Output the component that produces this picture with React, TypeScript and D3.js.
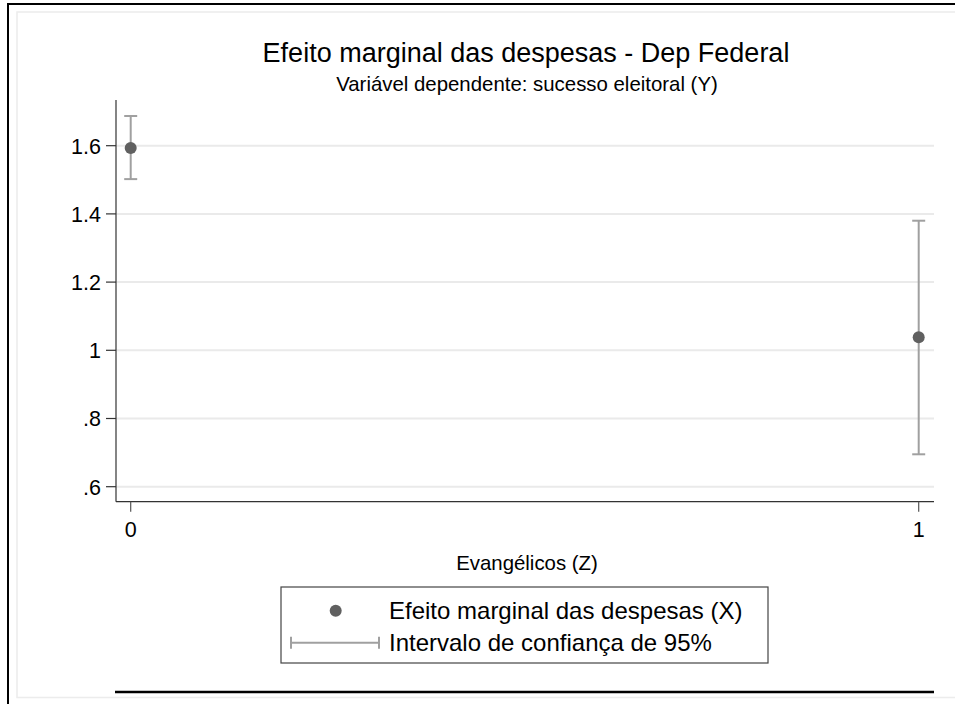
import React, { useRef, useEffect } from 'react';
import * as d3 from 'd3';

// Marginal effect of spending, by evangelical (Z)
const categories = [0, 1];
const margins = [1.593, 1.038];
const ciLower = [1.502, 0.695];
const ciUpper = [1.687, 1.38];
const yTicks = [0.6, 0.8, 1, 1.2, 1.4, 1.6];
const yTickLabels = ['.6', '.8', '1', '1.2', '1.4', '1.6'];
const legendLabels = ['Efeito marginal das despesas (X)', 'Intervalo de confiança de 95%'];

const FONT = '"Liberation Sans", Arial, sans-serif';

const App: React.FC = () => {
  const svgRef = useRef<SVGSVGElement>(null);

  useEffect(() => {
    if (!svgRef.current) return;
    const width = 955;
    const height = 704;

    d3.select(svgRef.current).selectAll('*').remove();
    const svg = d3.select(svgRef.current)
      .attr('width', width)
      .attr('height', height);

    svg.append('rect')
      .attr('width', width)
      .attr('height', height)
      .attr('fill', '#fff');

    // Outer frames (image is cropped on the right and bottom)
    svg.append('path')
      .attr('d', `M${width},4 H8 V${height}`)
      .attr('fill', 'none')
      .attr('stroke', '#000')
      .attr('stroke-width', 2);
    svg.append('path')
      .attr('d', `M${width},12 H17 V697.5 H${width}`)
      .attr('fill', 'none')
      .attr('stroke', '#ececec')
      .attr('stroke-width', 1.5);

    // Plot region
    const plot = { left: 116, right: 934, top: 100, bottom: 501.7 };

    const x = d3.scaleLinear()
      .domain([0, 1])
      .range([130.7, 918.7]);

    const y = d3.scaleLinear()
      .domain([0.556, 1.734])
      .range([plot.bottom, plot.top]);

    // Gridlines
    svg.append('g')
      .selectAll('line')
      .data(yTicks)
      .enter()
      .append('line')
      .attr('x1', plot.left)
      .attr('x2', plot.right)
      .attr('y1', d => y(d))
      .attr('y2', d => y(d))
      .attr('stroke', '#eaeaea')
      .attr('stroke-width', 2);

    // Axes lines
    svg.append('line')
      .attr('x1', plot.left).attr('x2', plot.left)
      .attr('y1', plot.top).attr('y2', plot.bottom)
      .attr('stroke', '#333')
      .attr('stroke-width', 1.2);
    svg.append('line')
      .attr('x1', plot.left).attr('x2', plot.right)
      .attr('y1', plot.bottom).attr('y2', plot.bottom)
      .attr('stroke', '#333')
      .attr('stroke-width', 1.2);

    // Y ticks and labels
    const yAxis = svg.append('g');
    yAxis.selectAll('line')
      .data(yTicks)
      .enter()
      .append('line')
      .attr('x1', plot.left - 10)
      .attr('x2', plot.left)
      .attr('y1', d => y(d))
      .attr('y2', d => y(d))
      .attr('stroke', '#333')
      .attr('stroke-width', 1.2);
    yAxis.selectAll('text')
      .data(yTicks)
      .enter()
      .append('text')
      .attr('x', plot.left - 15)
      .attr('y', d => y(d) + 8)
      .attr('text-anchor', 'end')
      .attr('font-family', FONT)
      .attr('font-size', 21.5)
      .attr('fill', '#000')
      .text((d, i) => yTickLabels[i]);

    // X ticks and labels
    const xAxis = svg.append('g');
    xAxis.selectAll('line')
      .data(categories)
      .enter()
      .append('line')
      .attr('x1', d => x(d))
      .attr('x2', d => x(d))
      .attr('y1', plot.bottom)
      .attr('y2', plot.bottom + 10)
      .attr('stroke', '#555')
      .attr('stroke-width', 1.2);
    xAxis.selectAll('text')
      .data(categories)
      .enter()
      .append('text')
      .attr('x', d => x(d))
      .attr('y', 537)
      .attr('text-anchor', 'middle')
      .attr('font-family', FONT)
      .attr('font-size', 21.5)
      .attr('fill', '#000')
      .text(d => d.toString());

    // Confidence intervals
    const ci = svg.append('g')
      .attr('stroke', '#a0a0a0')
      .attr('stroke-width', 2);
    categories.forEach((c, i) => {
      const cx = x(c);
      ci.append('line')
        .attr('x1', cx).attr('x2', cx)
        .attr('y1', y(ciLower[i])).attr('y2', y(ciUpper[i]));
      ci.append('line')
        .attr('x1', cx - 6.5).attr('x2', cx + 6.5)
        .attr('y1', y(ciLower[i])).attr('y2', y(ciLower[i]));
      ci.append('line')
        .attr('x1', cx - 6.5).attr('x2', cx + 6.5)
        .attr('y1', y(ciUpper[i])).attr('y2', y(ciUpper[i]));
    });

    // Points
    svg.append('g')
      .selectAll('circle')
      .data(categories)
      .enter()
      .append('circle')
      .attr('cx', d => x(d))
      .attr('cy', (d, i) => y(margins[i]))
      .attr('r', 6)
      .attr('fill', '#606060');

    // Titles
    svg.append('text')
      .attr('x', 526)
      .attr('y', 62)
      .attr('text-anchor', 'middle')
      .attr('font-family', FONT)
      .attr('font-size', 27)
      .attr('fill', '#000')
      .text('Efeito marginal das despesas - Dep Federal');
    svg.append('text')
      .attr('x', 527)
      .attr('y', 91)
      .attr('text-anchor', 'middle')
      .attr('font-family', FONT)
      .attr('font-size', 20.4)
      .attr('fill', '#000')
      .text('Variável dependente: sucesso eleitoral (Y)');
    svg.append('text')
      .attr('x', 527)
      .attr('y', 570)
      .attr('text-anchor', 'middle')
      .attr('font-family', FONT)
      .attr('font-size', 20.4)
      .attr('fill', '#000')
      .text('Evangélicos (Z)');

    // Legend
    const legend = svg.append('g');
    legend.append('rect')
      .attr('x', 281).attr('y', 587)
      .attr('width', 487).attr('height', 76)
      .attr('fill', '#fff')
      .attr('stroke', '#444')
      .attr('stroke-width', 1.2);
    legend.append('circle')
      .attr('cx', 335.7).attr('cy', 610.7)
      .attr('r', 6)
      .attr('fill', '#606060');
    const lg = legend.append('g')
      .attr('stroke', '#a0a0a0')
      .attr('stroke-width', 2);
    lg.append('line').attr('x1', 291).attr('x2', 379).attr('y1', 642.7).attr('y2', 642.7);
    lg.append('line').attr('x1', 291).attr('x2', 291).attr('y1', 636.7).attr('y2', 648.7);
    lg.append('line').attr('x1', 379).attr('x2', 379).attr('y1', 636.7).attr('y2', 648.7);
    legend.selectAll('text')
      .data(legendLabels)
      .enter()
      .append('text')
      .attr('x', 389)
      .attr('y', (d, i) => 619 + i * 32)
      .attr('font-family', FONT)
      .attr('font-size', 24)
      .attr('fill', '#000')
      .text(d => d);

    // Bottom rule
    svg.append('line')
      .attr('x1', 115).attr('x2', 934)
      .attr('y1', 692).attr('y2', 692)
      .attr('stroke', '#000')
      .attr('stroke-width', 2.5);
  }, []);

  return (
    <div style={{ position: 'absolute', left: 0, top: 0 }}>
      <svg ref={svgRef} style={{ display: 'block' }} />
    </div>
  );
};

export default App;
